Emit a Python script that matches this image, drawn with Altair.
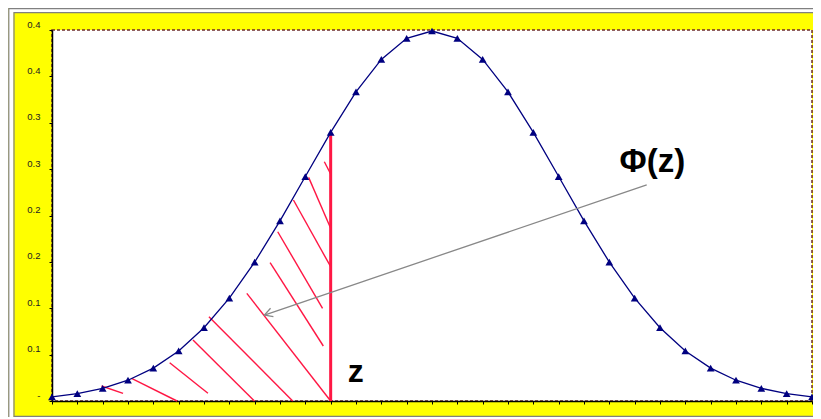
import altair as alt
import pandas as pd

# ---- data ----
z_values = [-3.0, -2.8, -2.6, -2.4, -2.2, -2.0, -1.8, -1.6, -1.4, -1.2, -1.0,
            -0.8, -0.6, -0.4, -0.2, 0.0, 0.2, 0.4, 0.6, 0.8, 1.0, 1.2, 1.4,
            1.6, 1.8, 2.0, 2.2, 2.4, 2.6, 2.8, 3.0]
density = [0.0044, 0.0079, 0.0136, 0.0224, 0.0355, 0.0540, 0.0790, 0.1109,
           0.1497, 0.1942, 0.2420, 0.2897, 0.3332, 0.3683, 0.3910, 0.3989,
           0.3910, 0.3683, 0.3332, 0.2897, 0.2420, 0.1942, 0.1497, 0.1109,
           0.0790, 0.0540, 0.0355, 0.0224, 0.0136, 0.0079, 0.0044]

y_ticks = [0.0, 0.05, 0.10, 0.15, 0.20, 0.25, 0.30, 0.35, 0.40]
y_tick_labels = ["-", "0.1", "0.1", "0.2", "0.2", "0.3", "0.3", "0.4", "0.4"]

# hatch strokes under the curve (start / end points)
hatch_x1 = [-2.609, -2.372, -2.071, -1.887, -1.761, -1.462, -1.278, -1.218, -1.094, -0.974, -0.850]
hatch_y1 = [0.0162, 0.0245, 0.0413, 0.0658, 0.0909, 0.1161, 0.1491, 0.1825, 0.2167, 0.2411, 0.2580]
hatch_x2 = [-2.439, -2.013, -1.769, -1.402, -1.100, -0.800, -0.858, -0.864, -0.800, -0.800, -0.800]
hatch_y2 = [0.0083, 0.0000, 0.0083, 0.0000, 0.0000, 0.0000, 0.0593, 0.0999, 0.1448, 0.1862, 0.2447]

z_mark = [-0.8]
z_mark_top = [0.2897]

arrow_tail_x = [1.695]
arrow_tail_y = [0.2329]
arrow_head_x = [-1.323]
arrow_head_y = [0.0927]

phi_label = ["Φ(z)"]
phi_x = [1.74]
phi_y = [0.2469]
z_label = ["z"]
z_label_x = [-0.601]
z_label_y = [0.0208]

# ---- tables ----
curve_df = pd.DataFrame({"z": z_values, "p": density})
hatch_df = pd.DataFrame({"x": hatch_x1, "y": hatch_y1, "x2": hatch_x2, "y2": hatch_y2})
zline_df = pd.DataFrame({"x": z_mark, "y": [0.0], "y2": z_mark_top})
arrow_df = pd.DataFrame({"x": arrow_tail_x, "y": arrow_tail_y, "x2": arrow_head_x, "y2": arrow_head_y})
head_df = pd.DataFrame({"x": arrow_head_x, "y": arrow_head_y})
phi_df = pd.DataFrame({"x": phi_x, "y": phi_y, "t": phi_label})
zl_df = pd.DataFrame({"x": z_label_x, "y": z_label_y, "t": z_label})
one = pd.DataFrame({"a": [0]})

W, H = 760, 371

xs = alt.Scale(domain=[-3, 3], nice=False, zero=False)
ys = alt.Scale(domain=[0, 0.4], nice=False, zero=False)

label_expr = "[" + ",".join("'%s'" % s for s in y_tick_labels) + "][round(datum.value*20)]"

x_axis = alt.Axis(values=z_values, labels=False, title=None, ticks=True, tickSize=3,
                  tickColor="black", domainColor="black", domainWidth=1.5, grid=False)
y_axis = alt.Axis(values=y_ticks, labelExpr=label_expr, title=None, tickSize=3,
                  tickColor="black", labelPadding=9, labelFontSize=9.5,
                  labelFont="Liberation Sans", labelColor="#222222", labelOffset=-6,
                  labelOverlap=False, labelBound=False, grid=False,
                  domainColor="black", domainWidth=1.5)


def X(f):
    return alt.X(f, type="quantitative", scale=xs, axis=x_axis)


def Y(f):
    return alt.Y(f, type="quantitative", scale=ys, axis=y_axis)


# decorative double frame around the yellow panel
frame_white = alt.Chart(one).mark_rect(fillOpacity=0, stroke="white", strokeWidth=5).encode(
    x=alt.value(-41), x2=alt.value(786), y=alt.value(-20), y2=alt.value(395))
frame_outer = alt.Chart(one).mark_rect(fillOpacity=0, stroke="#808080", strokeWidth=1.2).encode(
    x=alt.value(-43.2), x2=alt.value(786), y=alt.value(-21.4), y2=alt.value(400))
frame_inner = alt.Chart(one).mark_rect(fillOpacity=0, stroke="#808080", strokeWidth=1.2).encode(
    x=alt.value(-38), x2=alt.value(786), y=alt.value(-17.4), y2=alt.value(386.3))

hatch = alt.Chart(hatch_df).mark_rule(color="#FF1744", strokeWidth=1.4).encode(
    x=X("x"), y=Y("y"), x2="x2:Q", y2="y2:Q")

zline = alt.Chart(zline_df).mark_rule(color="#FF1744", strokeWidth=3).encode(
    x=X("x"), y=Y("y"), y2="y2:Q")

line = alt.Chart(curve_df).mark_line(color="#000080", strokeWidth=1.3).encode(
    x=X("z"), y=Y("p"))
pts = alt.Chart(curve_df).mark_point(shape="triangle-up", filled=True, color="#000080",
                                     size=60, opacity=1).encode(x=X("z"), y=Y("p"))

arrow = alt.Chart(arrow_df).mark_rule(color="#888888", strokeWidth=1.3).encode(
    x=X("x"), y=Y("y"), x2="x2:Q", y2="y2:Q")
head = alt.Chart(head_df).mark_point(shape="M-2,-1.1L0,0L-2,1.1", filled=False,
                                     stroke="#888888", strokeWidth=1.3, size=64,
                                     angle=161, opacity=1).encode(x=X("x"), y=Y("y"))

phi_text = alt.Chart(phi_df).mark_text(fontSize=33, fontWeight="bold", font="Liberation Sans",
                                       align="center", baseline="alphabetic", color="black").encode(
    x=X("x"), y=Y("y"), text="t:N")
z_text = alt.Chart(zl_df).mark_text(fontSize=32, fontWeight="bold", font="Liberation Sans",
                                    align="center", baseline="alphabetic", color="black").encode(
    x=X("x"), y=Y("y"), text="t:N")

chart = alt.layer(
    frame_white, frame_outer, frame_inner,
    hatch, zline, line, pts, arrow, head, phi_text, z_text
).properties(
    width=W, height=H,
    background="#FFFF00",
    padding={"left": 44, "top": 22, "right": 1, "bottom": 16},
    autosize=alt.AutoSizeParams(type="none"),
).configure_view(
    fill="white", stroke="#6e2b2b", strokeDash=[3, 2], strokeWidth=1.5
)

chart.save("out.html", embed_options={"renderer": "svg", "actions": False})
